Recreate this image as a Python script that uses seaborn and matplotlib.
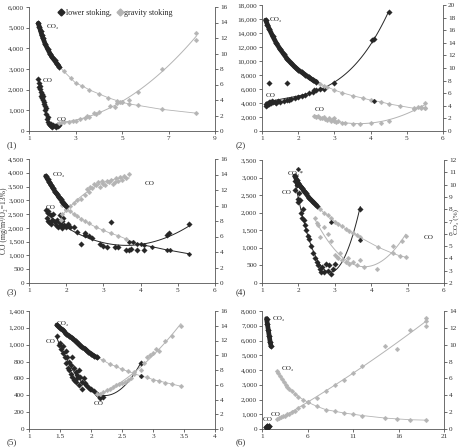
import numpy as np
import pandas as pd
import matplotlib
matplotlib.use("Agg")
import matplotlib.pyplot as plt
from matplotlib.ticker import StrMethodFormatter
from matplotlib.lines import Line2D
import seaborn as sns

sns.set_theme(style="ticks")
plt.rcParams["font.family"] = ["Liberation Serif", "DejaVu Serif"]

DARK = "#262626"
GRAY = "#b4b4b4"

# ---------------- Panel 1 ----------------
p1_low_co2_x = [1.40, 1.45, 1.5, 1.55, 1.6, 1.7, 1.8, 1.9, 2.0, 2.1, 2.2, 2.3]
p1_low_co2_y = [13.9, 13.4, 12.9, 12.4, 12.0, 11.2, 10.6, 10.0, 9.5, 9.1, 8.7, 8.3]
p1_grav_co2_x = [2.3, 2.5, 2.8, 3.0, 3.3, 3.6, 4.0, 4.4, 4.8, 5.0, 5.3, 5.7, 6.7, 8.2]
p1_grav_co2_y = [8.3, 7.7, 6.8, 6.2, 5.8, 5.3, 4.8, 4.3, 3.9, 3.7, 3.5, 3.3, 2.8, 2.3]
p1_low_co_x = [1.40, 1.42, 1.44, 1.46, 1.48, 1.50, 1.52, 1.54, 1.56, 1.58, 1.60, 1.62, 1.64, 1.66,
               1.68, 1.70, 1.72, 1.75, 1.78, 1.80, 1.83, 1.86, 1.90, 1.93, 1.96, 2.00, 2.05, 2.10,
               2.15, 2.20, 2.25, 2.30]
p1_low_co_y = [2500, 2300, 2150, 2050, 2200, 1900, 1700, 1800, 1600, 1650, 1500, 1700, 1400, 1300,
               1200, 1000, 1100, 800, 600, 700, 450, 350, 300, 250, 350, 200, 300, 250, 200, 300, 250, 280]
p1_grav_co_x = [2.3, 2.4, 2.5, 2.7, 2.9, 3.0, 3.2, 3.4, 3.5, 3.6, 3.8, 3.9, 4.0, 4.5, 4.7, 4.8, 4.9,
                5.0, 5.3, 5.7, 6.7, 8.2, 8.2]
p1_grav_co_y = [400, 450, 420, 450, 480, 500, 600, 650, 750, 700, 850, 800, 900, 1200, 1150, 1350,
                1400, 1400, 1500, 1900, 3000, 4750, 4400]

# ---------------- Panel 2 ----------------
p2_low_co2_x = [1.10, 1.15, 1.2, 1.3, 1.4, 1.5, 1.6, 1.7, 1.8, 1.9, 2.0, 2.1, 2.2, 2.3, 2.4, 2.5]
p2_low_co2_y = [17.6, 16.9, 16.2, 15.0, 13.9, 13.0, 12.2, 11.4, 10.8, 10.2, 9.7, 9.3, 8.9, 8.5, 8.1, 7.8]
p2_grav_co2_x = [2.4, 2.5, 2.6, 2.7, 2.8, 3.0, 3.2, 3.5, 3.8, 4.0, 4.1, 4.3, 4.5, 4.8, 5.2, 5.4, 5.5]
p2_grav_co2_y = [8.2, 7.9, 7.5, 7.2, 7.0, 6.5, 6.1, 5.6, 5.2, 4.9, 4.8, 4.6, 4.3, 4.0, 3.6, 3.7, 3.6]
p2_low_co_x = [1.1, 1.12, 1.15, 1.18, 1.2, 1.22, 1.25, 1.28, 1.3, 1.35, 1.4, 1.45, 1.5, 1.6, 1.7, 1.75,
               1.8, 1.9, 2.0, 2.1, 2.2, 2.3, 2.4, 2.45, 2.5, 2.6, 2.7, 1.2, 1.7, 3.0, 4.05, 4.1, 4.5]
p2_low_co_y = [3600, 3900, 3700, 4100, 3800, 4200, 4000, 4300, 4100, 4200, 4000, 4300, 4200, 4300,
               4500, 4400, 4600, 4700, 4800, 5000, 5100, 5400, 5600, 5800, 5900, 6000, 6000, 6900,
               6900, 6800, 13000, 13100, 17000]
p2_grav_co_x = [2.45, 2.5, 2.55, 2.6, 2.65, 2.7, 2.75, 2.8, 2.85, 2.9, 2.95, 3.0, 3.0, 3.05, 3.1, 3.2,
                3.3, 3.5, 3.7, 4.0, 4.3, 4.5, 5.2, 5.3, 5.4, 5.5, 5.5]
p2_grav_co_y = [2100, 2000, 2200, 1900, 1800, 2000, 1700, 1600, 1800, 1500, 1700, 1400, 1900, 1300,
                1500, 1200, 1100, 1000, 1000, 1100, 1200, 1400, 3200, 3400, 3500, 3300, 4000]

# ---------------- Panel 3 ----------------
p3_low_co2_x = [1.45, 1.5, 1.55, 1.6, 1.65, 1.7, 1.75, 1.8, 1.85, 1.9, 1.95, 2.0]
p3_low_co2_y = [13.8, 13.4, 13.0, 12.6, 12.2, 11.8, 11.5, 11.1, 10.8, 10.5, 10.2, 9.9]
p3_low_co2_tail_x = [3.7, 3.8, 3.9, 4.0, 4.1, 4.3, 4.7, 4.8, 5.3]
p3_low_co2_tail_y = [5.33, 5.23, 5.08, 4.98, 4.87, 4.69, 4.27, 4.2, 3.77]
p3_grav_co2_x = [1.9, 2.0, 2.1, 2.2, 2.3, 2.4, 2.5, 2.6, 2.8, 3.0, 3.2, 3.4, 3.6, 3.8]
p3_grav_co2_y = [10.1, 9.6, 9.3, 8.9, 8.6, 8.3, 8.0, 7.7, 7.2, 6.8, 6.4, 6.1, 5.7, 5.3]
p3_low_co_x = [1.45, 1.48, 1.5, 1.5, 1.52, 1.55, 1.58, 1.6, 1.62, 1.65, 1.7, 1.72, 1.75, 1.78, 1.8,
               1.82, 1.85, 1.88, 1.9, 1.92, 1.95, 2.0, 2.05, 2.1, 2.2, 2.3, 2.4, 2.5, 2.5, 2.6, 2.7,
               2.9, 3.0, 3.1, 3.2, 3.3, 3.4, 3.6, 3.7, 3.75, 3.9, 4.1, 4.7, 4.75, 5.3]
p3_low_co_y = [2650, 2350, 2550, 2250, 2600, 2200, 2450, 2150, 2300, 2500, 2200, 2100, 2300, 2050,
               2200, 2450, 2100, 2000, 2250, 2350, 2100, 2050, 2150, 2050, 2050, 1850, 1400, 1750,
               1800, 1700, 1650, 1400, 1350, 1300, 2200, 1300, 1300, 1200, 1200, 1250, 1200, 1200,
               1750, 1800, 2150]
p3_grav_co_x = [1.85, 1.9, 2.0, 2.1, 2.2, 2.3, 2.4, 2.5, 2.55, 2.6, 2.65, 2.7, 2.75, 2.8, 2.85, 2.9,
                2.95, 3.0, 3.05, 3.1, 3.15, 3.2, 3.25, 3.3, 3.35, 3.4, 3.45, 3.5, 3.55, 3.6, 3.7]
p3_grav_co_y = [2300, 2500, 2650, 2800, 2900, 3000, 3050, 3200, 3400, 3300, 3500, 3450, 3600, 3550,
                3650, 3500, 3700, 3600, 3550, 3700, 3650, 3750, 3600, 3650, 3800, 3700, 3850, 3750,
                3900, 3800, 3950]

# ---------------- Panel 4 ----------------
p4_low_co2_x = [1.9, 1.95, 2.0, 2.05, 2.1, 2.15, 2.2, 2.3, 2.4, 2.5]
p4_low_co2_y = [10.7, 10.4, 10.1, 9.9, 9.7, 9.5, 9.3, 8.9, 8.6, 8.3]
p4_low_co2_extra_x = [2.0, 2.9, 3.7]
p4_low_co2_extra_y = [11.3, 7.0, 5.5]
p4_grav_co2_x = [2.5, 2.6, 2.7, 2.8, 2.9, 3.0, 3.1, 3.2, 3.3, 3.4, 3.5, 3.6, 3.7, 4.2, 4.6, 4.8, 4.95]
p4_grav_co2_y = [8.3, 8.0, 7.7, 7.5, 7.3, 7.0, 6.8, 6.6, 6.4, 6.2, 6.1, 5.9, 5.7, 4.9, 4.4, 4.2, 4.1]
p4_low_co_x = [1.9, 1.92, 1.95, 1.98, 2.0, 2.02, 2.05, 2.08, 2.1, 2.12, 2.15, 2.18, 2.2, 2.25, 2.3,
               2.35, 2.4, 2.45, 2.5, 2.55, 2.6, 2.62, 2.65, 2.7, 2.75, 2.8, 2.85, 2.9, 2.95, 3.0, 3.7]
p4_low_co_y = [2900, 2650, 2800, 2400, 2300, 2550, 2350, 2000, 1850, 2100, 1800, 1650, 1500, 1350,
               1250, 1050, 850, 700, 600, 500, 400, 300, 450, 300, 550, 350, 500, 250, 400, 550, 2100]
p4_grav_co_x = [2.45, 2.5, 2.55, 2.6, 2.7, 2.8, 2.9, 3.0, 3.05, 3.1, 3.15, 3.2, 3.3, 3.35, 3.4, 3.5,
                3.6, 3.7, 3.8, 4.15, 4.6, 4.85, 4.95]
p4_grav_co_y = [1850, 1700, 1650, 1300, 1600, 1400, 1200, 800, 750, 700, 850, 650, 600, 700, 550,
                600, 500, 650, 450, 400, 1050, 1200, 1350]

# ---------------- Panel 5 ----------------
p5_low_co2_x = [1.45, 1.5, 1.55, 1.6, 1.65, 1.7, 1.75, 1.8, 1.85, 1.9, 1.95, 2.0, 2.05, 2.1]
p5_low_co2_y = [14.1, 13.7, 13.4, 12.9, 12.6, 12.3, 11.9, 11.5, 11.1, 10.9, 10.5, 10.2, 9.9, 9.7]
p5_grav_co2_x = [2.1, 2.2, 2.3, 2.4, 2.5, 2.6, 2.7, 2.8, 2.9, 3.0, 3.1, 3.2, 3.3, 3.45]
p5_grav_co2_y = [9.7, 9.3, 8.8, 8.5, 8.1, 7.8, 7.5, 7.2, 7.0, 6.7, 6.5, 6.3, 6.1, 5.8]
p5_low_co_x = [1.45, 1.48, 1.5, 1.52, 1.55, 1.55, 1.58, 1.6, 1.6, 1.62, 1.63, 1.65, 1.65, 1.67, 1.68,
               1.7, 1.7, 1.72, 1.73, 1.75, 1.75, 1.77, 1.78, 1.8, 1.8, 1.82, 1.85, 1.85, 1.88, 1.9,
               1.92, 1.95, 1.98, 2.0, 2.05, 2.1, 2.12, 2.15, 2.2, 2.8]
p5_low_co_y = [1100, 1000, 1020, 950, 900, 980, 860, 930, 780, 850, 720, 800, 700, 760, 650, 850,
               620, 720, 580, 680, 560, 640, 600, 700, 520, 620, 560, 480, 600, 540, 520, 500, 480,
               470, 450, 420, 400, 370, 380, 780]
p5_grav_co_x = [2.1, 2.15, 2.2, 2.25, 2.3, 2.35, 2.4, 2.45, 2.5, 2.55, 2.6, 2.65, 2.7, 2.8, 2.85, 2.9,
                2.95, 3.0, 3.05, 3.1, 3.2, 3.3, 3.45]
p5_grav_co_y = [420, 410, 440, 460, 480, 500, 520, 530, 540, 560, 580, 600, 680, 700, 780, 850, 880,
                900, 950, 920, 1050, 1100, 1220]

# ---------------- Panel 6 ----------------
p6_low_co2_x = [1.5, 1.6, 1.7, 1.8, 1.9, 2.0]
p6_low_co2_y = [13.1, 12.4, 11.7, 11.0, 10.3, 9.8]
p6_low_co_x = [1.4, 1.5, 1.6, 1.7, 1.8]
p6_low_co_y = [150, 100, 200, 120, 180]
p6_grav_co2_x = [2.7, 2.8, 3.0, 3.2, 3.4, 3.6, 3.8, 4.0, 4.3, 4.6, 5.0, 5.5, 6.0, 7.0, 8.0, 9.0,
                 10.0, 11.0, 12.0, 14.5, 15.8, 17.3, 19.0]
p6_grav_co2_y = [6.9, 6.65, 6.3, 5.95, 5.6, 5.25, 5.0, 4.7, 4.5, 4.2, 3.85, 3.5, 3.2, 2.7, 2.3, 2.1,
                 1.9, 1.75, 1.6, 1.3, 1.2, 1.1, 1.05]
p6_grav_co_x = [2.7, 2.9, 3.1, 3.3, 3.5, 3.8, 4.0, 4.3, 4.6, 5.0, 5.5, 6.0, 7.0, 8.0, 9.0, 10.0,
                11.0, 12.0, 14.5, 15.8, 17.3, 19.0, 19.0, 19.0]
p6_grav_co_y = [700, 750, 800, 850, 900, 1000, 1050, 1150, 1250, 1400, 1550, 1800, 2100, 2600,
                3000, 3350, 3800, 4250, 5600, 5450, 6700, 7500, 7300, 7000]

W, H = 462, 447
fig = plt.figure(figsize=(W / 100, H / 100), dpi=100)

FS = 5.2


def make_axes(l, r, t, b):
    ax = fig.add_axes([l / W, 1 - b / H, (r - l) / W, (b - t) / H])
    ax2 = ax.twinx()
    for a in (ax, ax2):
        a.set_facecolor("none")
        a.spines["top"].set_visible(False)
        for s in a.spines.values():
            s.set_linewidth(0.6)
            s.set_color("#555555")
        a.tick_params(labelsize=FS, length=2, width=0.5, pad=1.5, colors="#333333")
    ax.spines["right"].set_visible(False)
    ax2.spines["left"].set_visible(False)
    ax2.spines["bottom"].set_visible(False)
    ax.set_facecolor("white")
    ax.set_zorder(1)
    ax2.set_zorder(2)
    return ax, ax2


def finish(ax, ax2, xlim, xticks, ylim, ystep, y2lim, y2step, xlabels=None):
    ax.set_xlim(*xlim)
    ax.set_xticks(xticks)
    if xlabels is not None:
        ax.set_xticklabels(xlabels)
    ax.set_ylim(*ylim)
    ax.set_yticks(np.arange(ylim[0], ylim[1] + ystep / 2, ystep))
    ax.yaxis.set_major_formatter(StrMethodFormatter("{x:,.0f}"))
    ax2.set_ylim(*y2lim)
    ax2.set_yticks(np.arange(y2lim[0], y2lim[1] + y2step / 2, y2step))
    ax2.yaxis.set_major_formatter(StrMethodFormatter("{x:.0f}"))
    ax.set_xlabel("")
    ax.set_ylabel("")
    ax2.set_ylabel("")


def pts(ax, x, y, color, s=6):
    sns.scatterplot(x=x, y=y, ax=ax, color=color, marker="D", s=s, linewidth=0.2,
                    edgecolor=color, legend=False, zorder=3)


def fit(ax, x, y, color, order=2):
    sns.regplot(x=np.array(x), y=np.array(y), ax=ax, order=order, ci=None, scatter=False,
                truncate=True, line_kws=dict(color=color, lw=0.7, zorder=2))


def band(ax, x, y, color, lw=3.4):
    sns.lineplot(x=x, y=y, ax=ax, color=color, lw=lw, legend=False, zorder=3,
                 solid_capstyle="round")
    pts(ax, x, y, color, s=9)


def thin(ax, x, y, color):
    sns.lineplot(x=x, y=y, ax=ax, color=color, lw=0.6, legend=False, zorder=2)
    pts(ax, x, y, color, s=6)


def lab(ax, x, y, t):
    ax.text(x, y, t, fontsize=FS, color="#222222", zorder=5)


# Panel 1
ax, ax2 = make_axes(29, 215, 7, 131)
thin(ax2, p1_grav_co2_x, p1_grav_co2_y, GRAY)
band(ax2, p1_low_co2_x, p1_low_co2_y, DARK)
pts(ax, p1_low_co_x, p1_low_co_y, DARK, s=8)
fit(ax, p1_grav_co_x, p1_grav_co_y, GRAY)
pts(ax, p1_grav_co_x, p1_grav_co_y, GRAY)
lab(ax, 1.75, 5000, "CO₂")
lab(ax, 1.6, 2380, "CO")
lab(ax, 2.2, 480, "CO")
finish(ax, ax2, (1, 9), [1, 3, 5, 7, 9], (0, 6000), 1000, (0, 16), 2)

# Panel 2
ax, ax2 = make_axes(262, 443, 5, 131)
thin(ax2, p2_grav_co2_x, p2_grav_co2_y, GRAY)
band(ax2, p2_low_co2_x, p2_low_co2_y, DARK)
pts(ax2, [4.1], [4.75], DARK)
fit(ax, p2_low_co_x, p2_low_co_y, DARK, order=3)
pts(ax, p2_low_co_x, p2_low_co_y, DARK, s=8)
fit(ax, p2_grav_co_x, p2_grav_co_y, GRAY)
pts(ax, p2_grav_co_x, p2_grav_co_y, GRAY)
lab(ax, 1.22, 15700, "CO₂")
lab(ax, 1.1, 4900, "CO")
lab(ax, 2.45, 2900, "CO")
finish(ax, ax2, (1, 6), [1, 2, 3, 4, 5, 6], (0, 18000), 2000, (0, 20), 2)

# Panel 3
ax, ax2 = make_axes(29, 215, 159, 283)
thin(ax2, p3_grav_co2_x, p3_grav_co2_y, GRAY)
band(ax2, p3_low_co2_x, p3_low_co2_y, DARK)
sns.lineplot(x=p3_grav_co2_x[-1:] + p3_low_co2_tail_x, y=p3_grav_co2_y[-1:] + p3_low_co2_tail_y,
             ax=ax2, color=DARK, lw=0.7, legend=False)
pts(ax2, p3_low_co2_tail_x, p3_low_co2_tail_y, DARK)
fit(ax, p3_low_co_x, p3_low_co_y, DARK)
pts(ax, p3_low_co_x, p3_low_co_y, DARK, s=8)
fit(ax, p3_grav_co_x, p3_grav_co_y, GRAY)
pts(ax, p3_grav_co_x, p3_grav_co_y, GRAY)
lab(ax, 1.65, 3900, "CO₂")
lab(ax, 1.45, 2680, "CO")
lab(ax, 4.1, 3550, "CO")
finish(ax, ax2, (1, 6), [1, 2, 3, 4, 5, 6], (0, 4500), 500, (0, 16), 2)
ax.set_ylabel("CO (mg/m³/O₂=13%)", fontsize=FS + 0.3, color="#333333")
ax.yaxis.set_label_coords(-0.115, 0.5)

# Panel 4
ax, ax2 = make_axes(262, 444, 160, 283)
thin(ax2, p4_grav_co2_x, p4_grav_co2_y, GRAY)
band(ax2, p4_low_co2_x, p4_low_co2_y, DARK)
pts(ax2, p4_low_co2_extra_x, p4_low_co2_extra_y, DARK)
fit(ax, p4_low_co_x, p4_low_co_y, DARK)
pts(ax, p4_low_co_x, p4_low_co_y, DARK, s=8)
fit(ax, p4_grav_co_x, p4_grav_co_y, GRAY)
pts(ax, p4_grav_co_x, p4_grav_co_y, GRAY)
lab(ax, 1.7, 3080, "CO₂*")
lab(ax, 1.55, 2520, "CO")
lab(ax, 5.45, 1250, "CO")
finish(ax, ax2, (1, 6), [1, 2, 3, 4, 5, 6], (0, 3500), 500, (2, 12), 1)
ax2.set_ylabel("CO₂ (%)", fontsize=FS, color="#333333", rotation=90)
ax2.yaxis.set_label_coords(1.052, 0.5)

# Panel 5
ax, ax2 = make_axes(29, 215, 311, 429)
thin(ax2, p5_grav_co2_x, p5_grav_co2_y, GRAY)
band(ax2, p5_low_co2_x, p5_low_co2_y, DARK)
pts(ax2, [2.8], [7.2], DARK)
fit(ax, p5_low_co_x, p5_low_co_y, DARK)
pts(ax, p5_low_co_x, p5_low_co_y, DARK, s=8)
fit(ax, p5_grav_co_x, p5_grav_co_y, GRAY)
pts(ax, p5_grav_co_x, p5_grav_co_y, GRAY)
lab(ax, 1.45, 1230, "CO₂")
lab(ax, 1.27, 1020, "CO")
lab(ax, 2.05, 290, "CO")
finish(ax, ax2, (1, 4), [1, 1.5, 2, 2.5, 3, 3.5, 4], (0, 1400), 200, (0, 16), 2,
       xlabels=["1", "1.5", "2", "2.5", "3", "3.5", "4"])

# Panel 6
ax, ax2 = make_axes(262, 444, 311, 429)
thin(ax2, p6_grav_co2_x, p6_grav_co2_y, GRAY)
band(ax2, p6_low_co2_x, p6_low_co2_y, DARK)
fit(ax, p6_grav_co_x, p6_grav_co_y, GRAY)
pts(ax, p6_grav_co_x, p6_grav_co_y, GRAY)
pts(ax, p6_low_co_x, p6_low_co_y, DARK, s=10)
lab(ax, 2.2, 7400, "CO₂")
lab(ax, 3.2, 4000, "CO₂")
lab(ax, 2.0, 850, "CO")
lab(ax, 1.1, 550, "CO")
finish(ax, ax2, (1, 21), [1, 6, 11, 16, 21], (0, 8000), 1000, (0, 14), 2)

# Panel labels
for (px, py, t) in [(7, 147, "(1)"), (236, 147, "(2)"), (7, 294, "(3)"),
                    (236, 294, "(4)"), (7, 444, "(5)"), (236, 444, "(6)")]:
    fig.text(px / W, 1 - py / H, t, fontsize=6.5, color="#333333")

# Legend
handles = [Line2D([], [], marker="D", ls="none", color=DARK, markersize=3.5),
           Line2D([], [], marker="D", ls="none", color=GRAY, markersize=3.5)]
fig.legend(handles, ["lower stoking,", "gravity stoking"], loc="center",
           bbox_to_anchor=(115 / W, 1 - 13 / H), ncol=2, frameon=False, fontsize=5.8,
           handletextpad=0.1, columnspacing=0.5, handlelength=1.0)

fig.savefig("out.png", dpi=100)
